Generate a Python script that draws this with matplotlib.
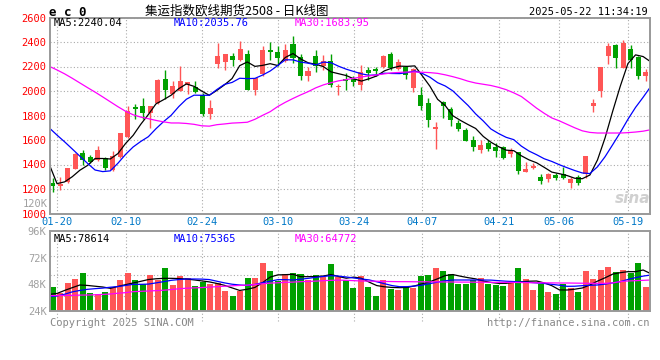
import numpy as np
import matplotlib.pyplot as plt

# daily K data, 2025-01-17 .. 2025-05-21 (index 0..79)
opens = [1245, 1222, 1260, 1365, 1494, 1458, 1434, 1456, 1352, 1458,
         1622, 1866, 1875, 1820, 1902, 2100, 1975, 2003, 2046, 2033,
         1967, 1815, 2223, 2240, 2283, 2255, 2305, 2011, 2141, 2337,
         2321, 2242, 2386, 2277, 2120, 2283, 2207, 2242, 2033, 2090,
         2098, 2052, 2169, 2182, 2196, 2305, 2180, 2193, 2025, 1967,
         1900, 1690, 1908, 1853, 1741, 1682, 1600, 1518, 1578, 1545,
         1545, 1486, 1499, 1341, 1374, 1296, 1282, 1314, 1322, 1251,
         1300, 1322, 1875, 1997, 2283, 2373, 2188, 2346, 2275, 2120]
highs = [1290, 1295, 1375, 1490, 1521, 1476, 1548, 1460, 1510, 1660,
         1880, 1890, 1943, 1880, 2095, 2169, 2079, 2201, 2075, 2079,
         1985, 1924, 2392, 2300, 2310, 2410, 2332, 2110, 2365, 2397,
         2370, 2386, 2446, 2305, 2196, 2337, 2297, 2299, 2060, 2147,
         2125, 2215, 2196, 2196, 2297, 2321, 2261, 2201, 2185, 2030,
         1940, 1747, 1921, 1872, 1763, 1701, 1633, 1600, 1600, 1578,
         1550, 1532, 1505, 1423, 1415, 1322, 1328, 1333, 1382, 1300,
         1314, 1470, 1935, 2195, 2392, 2386, 2419, 2378, 2288, 2180]
lows = [1178, 1195, 1250, 1360, 1400, 1410, 1430, 1358, 1345, 1455,
        1617, 1770, 1772, 1695, 1897, 1935, 1943, 1998, 1975, 1983,
        1798, 1775, 2188, 2174, 2207, 2248, 2008, 1965, 2120, 2256,
        2201, 2234, 2230, 2087, 2079, 2152, 2169, 2033, 1970, 2005,
        2038, 2011, 2092, 2125, 2188, 2174, 2169, 2098, 1995, 1845,
        1704, 1527, 1777, 1717, 1676, 1592, 1513, 1496, 1510, 1464,
        1448, 1464, 1322, 1338, 1361, 1241, 1260, 1273, 1279, 1211,
        1233, 1287, 1826, 1948, 2220, 2188, 2185, 2188, 2098, 2079]
closes = [1225, 1240, 1372, 1488, 1440, 1422, 1521, 1372, 1472, 1657,
          1834, 1855, 1820, 1875, 2092, 2005, 2038, 2084, 2071, 1990,
          1815, 1864, 2283, 2299, 2251, 2340, 2011, 2106, 2337, 2321,
          2267, 2337, 2267, 2120, 2160, 2207, 2242, 2052, 2044, 2085,
          2071, 2152, 2147, 2160, 2288, 2188, 2234, 2133, 2180, 1880,
          1761, 1704, 1880, 1763, 1690, 1595, 1540, 1559, 1524, 1513,
          1450, 1518, 1349, 1361, 1391, 1265, 1322, 1287, 1287, 1279,
          1246, 1469, 1902, 2193, 2365, 2270, 2392, 2256, 2120, 2152]

ma5 = [1399, 1244, 1258, 1300, 1353, 1392, 1449, 1449, 1445, 1489,
       1571, 1638, 1728, 1808, 1895, 1929, 1966, 2019, 2058, 2038,
       2000, 1965, 2005, 2050, 2102, 2207, 2237, 2201, 2209, 2223,
       2208, 2274, 2306, 2262, 2230, 2218, 2199, 2156, 2141, 2126,
       2099, 2081, 2100, 2123, 2164, 2187, 2203, 2201, 2205, 2123,
       2038, 1932, 1881, 1798, 1760, 1726, 1694, 1629, 1582, 1546,
       1517, 1513, 1471, 1438, 1414, 1377, 1338, 1325, 1310, 1288,
       1284, 1314, 1437, 1618, 1835, 2040, 2224, 2295, 2281, 2238]
ma10 = [1698, 1640, 1585, 1527, 1468, 1410, 1355, 1342, 1348, 1410,
        1482, 1543, 1588, 1627, 1692, 1750, 1802, 1873, 1933, 1966,
        1965, 1965, 2012, 2054, 2070, 2104, 2101, 2103, 2130, 2163,
        2208, 2255, 2254, 2236, 2227, 2213, 2236, 2231, 2202, 2178,
        2159, 2140, 2128, 2132, 2145, 2143, 2142, 2150, 2164, 2143,
        2112, 2068, 2041, 2001, 1941, 1882, 1813, 1755, 1690, 1653,
        1622, 1603, 1550, 1510, 1480, 1447, 1425, 1398, 1374, 1351,
        1331, 1326, 1381, 1464, 1562, 1662, 1769, 1866, 1949, 2037]
ma30 = [2201, 2172, 2140, 2104, 2066, 2028, 1991, 1952, 1912, 1872,
        1835, 1806, 1787, 1774, 1760, 1748, 1739, 1739, 1735, 1728,
        1716, 1713, 1725, 1731, 1738, 1741, 1745, 1769, 1801, 1831,
        1873, 1908, 1939, 1968, 1995, 2026, 2050, 2068, 2083, 2093,
        2104, 2115, 2123, 2131, 2140, 2148, 2152, 2155, 2155, 2153,
        2150, 2144, 2132, 2117, 2100, 2080, 2065, 2055, 2045, 2030,
        2011, 1985, 1955, 1908, 1860, 1818, 1780, 1756, 1728, 1700,
        1675, 1662, 1657, 1657, 1657, 1657, 1660, 1665, 1672, 1684]

volume = [45600, 39900, 49200, 52800, 58200, 40200, 39300, 41100, 45600, 51900,
          58200, 51900, 48000, 56400, 51900, 63000, 47400, 55500, 53400, 46500,
          50400, 48300, 48900, 42300, 37800, 42000, 54000, 54000, 67500, 60300,
          51300, 57000, 57900, 57300, 51900, 56400, 54900, 66300, 54900, 51900,
          45000, 55800, 45900, 37800, 51900, 43800, 42900, 45900, 45000, 55800,
          56400, 62400, 60300, 57300, 48300, 48300, 51900, 54000, 48300, 47400,
          46500, 49800, 62400, 52800, 42900, 48300, 41400, 39300, 48000, 45000,
          40800, 60300, 52800, 60900, 63600, 58800, 60900, 58500, 66900, 45900]
vol_ma5 = [39000, 39800, 42500, 45000, 47400, 47000, 46300, 45600, 44400, 46100,
           47700, 49200, 50700, 52300, 53000, 53400, 53400, 53200, 52800, 52000,
           51100, 50200, 48800, 47100, 44800, 42500, 43600, 45200, 49500, 54500,
           56500, 56700, 57000, 54900, 54900, 55000, 55500, 56800, 55000, 53500,
           54500, 53400, 50000, 46900, 45800, 45200, 45000, 45200, 46600, 48500,
           50400, 53000, 55900, 56800, 55300, 54000, 52900, 51000, 49700, 48900,
           48900, 49800, 50300, 50800, 51000, 49300, 46800, 43000, 42900, 43600,
           44700, 47400, 50900, 53900, 57200, 58500, 59400, 59400, 60900, 57600]
vol_ma10 = [36900, 37500, 39100, 41200, 42500, 43500, 44100, 44600, 45400, 46000,
            47000, 48000, 48000, 48200, 49300, 50400, 51600, 52300, 52800, 52800,
            52700, 52300, 50800, 49300, 48100, 47400, 47000, 47900, 49500, 50800,
            52200, 52200, 51900, 52600, 53400, 54300, 55100, 55800, 55400, 54600,
            53700, 52800, 52000, 50300, 48600, 46900, 45900, 45900, 46500, 47300,
            48700, 50000, 51200, 51900, 51900, 51900, 51900, 51900, 51800, 51300,
            50800, 50500, 50100, 49800, 49300, 48800, 48000, 47200, 46200, 46300,
            46800, 47100, 47400, 48200, 49300, 50400, 52400, 54000, 55400, 56400]
vol_ma30 = [37800, 37900, 38000, 38100, 38300, 38400, 38600, 38900, 39300, 40000,
            40500, 41400, 41700, 42000, 42300, 42700, 43300, 44000, 44500, 44800,
            45100, 45500, 45900, 46300, 46700, 47000, 47300, 47900, 48500, 49100,
            49400, 49800, 50000, 50400, 50600, 50900, 51300, 51600, 51800, 51600,
            51300, 51000, 50900, 50800, 50600, 50500, 50400, 50400, 50300, 50300,
            50200, 50200, 50100, 50100, 50000, 50000, 49900, 49900, 49800, 49800,
            49800, 49700, 49600, 49500, 49400, 49400, 49300, 49200, 49200, 49100,
            49000, 48900, 48900, 48900, 49300, 50500, 51000, 51300, 51600, 51900]

date_idx = [1, 10, 20, 30, 40, 49, 59, 67, 76]
date_labels = ['01-20', '02-10', '02-24', '03-10', '03-24', '04-07', '04-21', '05-06', '05-19']
price_ticks = [1000, 1200, 1400, 1600, 1800, 2000, 2200, 2400, 2600]
vol_ticks = [24000, 48000, 72000, 96000]
vol_tick_labels = ['24K', '48K', '72K', '96K']

RED = '#ff5656'
GREEN = '#00a000'
GRID = '#aaaaaa'
FRAME = '#999999'
MONO = 'DejaVu Sans Mono'
FS = 7.5
DOTS = (0, (1, 2))

W, H = 660, 360
fig = plt.figure(figsize=(W / 100, H / 100), dpi=100)


def box(x0, y0, x1, y1):
    # pixel box, origin top-left -> figure fraction
    return [x0 / W, 1 - y1 / H, (x1 - x0) / W, (y1 - y0) / H]


def px_text(x, y, s, **kw):
    kw.setdefault('family', MONO)
    kw.setdefault('fontsize', FS)
    kw.setdefault('va', 'center')
    fig.text(x / W, 1 - y / H, s, **kw)


o = np.array(opens)
c = np.array(closes)
n = len(o)
xl = np.arange(n)                 # MA lines sit on the label grid
xc = xl * 0.9865 + 0.433          # candles are drawn a bit tighter
up = c >= o
col = np.where(up, RED, GREEN)

ax = fig.add_axes(box(50, 17.5, 650, 213.5))
axv = fig.add_axes(box(50, 231, 650, 311))

# --- price panel ---
ax.vlines(xc, lows, highs, colors=col, lw=1)
ax.bar(xc, np.maximum(np.abs(c - o), 10), bottom=np.minimum(o, c),
       width=0.66, color=col, linewidth=0)
ax.plot(xl, ma5, color='black', lw=0.9)
ax.plot(xl, ma10, color='#0000ff', lw=0.9)
ax.plot(xl, ma30, color='#ff00ff', lw=0.9)

ax.set_xlim(0.08, 78.9)
ax.set_ylim(1000, 2600)
ax.set_yticks(price_ticks)
ax.set_yticklabels([str(v) for v in price_ticks], color='#ff0000', family=MONO, fontsize=FS)
ax.set_xticks(date_idx)
ax.set_xticklabels(date_labels, color='#0078c8', family=MONO, fontsize=FS)
ax.tick_params(length=0, pad=2.5)

# --- volume panel ---
axv.bar(xc, volume, width=0.79, color=col, linewidth=0)
axv.plot(xl, vol_ma5, color='black', lw=0.9)
axv.plot(xl, vol_ma10, color='#0000ff', lw=0.9)
axv.plot(xl, vol_ma30, color='#ff00ff', lw=0.9)
axv.set_xlim(0.08, 78.9)
axv.set_ylim(24000, 96000)
axv.set_yticks(vol_ticks)
axv.set_yticklabels(vol_tick_labels, color='#a0a0a0', family=MONO, fontsize=FS)
axv.set_yticks([37800, 56400, 73800], minor=True)
axv.set_xticks(date_idx)
axv.set_xticklabels([])
axv.tick_params(which='both', length=0, pad=2.5)
axv.text(-0.0045, 120000, '120K', transform=axv.get_yaxis_transform(), ha='right',
         va='center', color='#a0a0a0', family=MONO, fontsize=FS, clip_on=False)
# the date grid runs a little past the bottom of the volume box
for d in date_idx:
    axv.axvline(d, ymin=-0.12, ymax=0, color=GRID, lw=0.8, ls=DOTS, clip_on=False)

for a in (ax, axv):
    for s in a.spines.values():
        s.set_color(FRAME)
        s.set_linewidth(1.4)
    a.set_axisbelow(True)
    a.xaxis.grid(True, color=GRID, lw=0.8, ls=DOTS)
ax.yaxis.grid(True, color=GRID, lw=0.8, ls=DOTS)
axv.yaxis.grid(True, which='minor', color=GRID, lw=0.8, ls=DOTS)

# --- headers & footers ---
px_text(49, 13, 'e c 0', fontweight='bold', fontsize=9)
px_text(237, 11, '集运指数欧线期货2508 - 日K线图', ha='center', fontsize=9,
        family=['Noto Sans CJK SC', 'DejaVu Sans'])
px_text(648, 12, '2025-05-22 11:34:19', ha='right')
px_text(54, 23.5, 'MA5:2240.04', color='black')
px_text(174, 23.5, 'MA10:2035.76', color='#0000ff')
px_text(295, 23.5, 'MA30:1683.95', color='#ff00ff')
px_text(54, 239, 'MA5:78614', color='black')
px_text(174, 239, 'MA10:75365', color='#0000ff')
px_text(295, 239, 'MA30:64772', color='#ff00ff')
px_text(50, 323.5, 'Copyright 2025 SINA.COM', color='#888888')
px_text(649, 323.5, 'http://finance.sina.com.cn', ha='right', color='#888888')
px_text(633, 198, 'sina', ha='center', color='#d0d0d0', fontsize=11,
        fontstyle='italic', fontweight='bold', family='DejaVu Sans')

fig.savefig('out.png', dpi=100)
